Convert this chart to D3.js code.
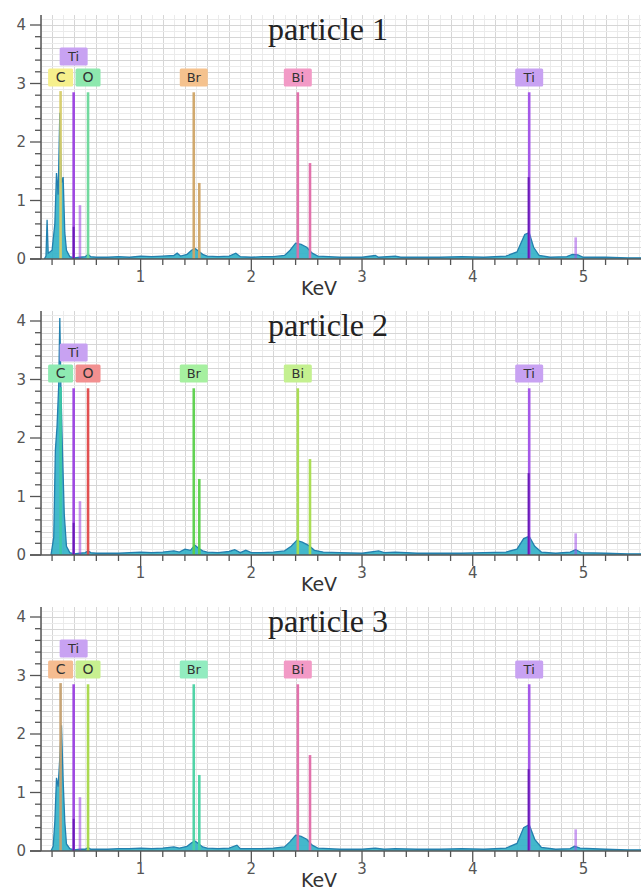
<!DOCTYPE html>
<html>
<head>
<meta charset="utf-8">
<script src="https://cdnjs.cloudflare.com/ajax/libs/d3/7.8.5/d3.min.js"></script>
<style>
  body { margin: 0; background: #fff; }
  svg { display: block; }
</style>
</head>
<body>
<svg id="chart" width="641" height="891"></svg>
<script>
// data
var panelTitles = ["particle 1", "particle 2", "particle 3"];
var yTicks = [0, 1, 2, 3, 4];
var xTicks = [1, 2, 3, 4, 5];

// element markers: label, energy (keV), row of the label box
var labelNames = ["C", "Ti", "O", "Br", "Bi", "Ti"];
var labelEnergy = [0.277, 0.395, 0.525, 1.48, 2.42, 4.51];
var labelRow = [0, 1, 0, 0, 0, 0];

// every marker line: owner label index, energy, height
var lineOwner = [0, 1, 1, 2, 3, 3, 4, 4, 5, 5];
var lineEnergy = [0.277, 0.395, 0.452, 0.525, 1.48, 1.53, 2.42, 2.53, 4.51, 4.93];
var lineHeight = [2.87, 2.85, 0.92, 2.85, 2.85, 1.30, 2.85, 1.64, 2.85, 0.37];
var lineFaint = [false, false, true, false, false, false, false, false, false, true];
// darker overlay parts on the Ti lines
var darkEnergy = [0.395, 4.505];
var darkHeight = [0.55, 1.40];

// spectra [keV, counts]
var spectrum1 = [[0.13,0],[0.145,0.05],[0.155,0.67],[0.165,0.1],[0.2,0.15],[0.225,0.6],[0.24,1.47],[0.255,1.1],[0.27,2.5],[0.285,1.3],[0.3,1.4],[0.315,0.45],[0.33,0.15],[0.36,0.04],[0.4,0.02],[0.45,0.03],[0.5,0.04],[0.525,0.08],[0.55,0.04],[0.6,0.03],[0.7,0.03],[0.8,0.04],[0.9,0.03],[1.0,0.05],[1.1,0.04],[1.2,0.05],[1.3,0.06],[1.33,0.1],[1.36,0.05],[1.42,0.08],[1.46,0.15],[1.49,0.18],[1.52,0.14],[1.56,0.08],[1.6,0.05],[1.7,0.04],[1.8,0.05],[1.86,0.1],[1.9,0.04],[2.0,0.03],[2.1,0.04],[2.2,0.04],[2.3,0.06],[2.35,0.15],[2.4,0.27],[2.45,0.25],[2.5,0.2],[2.55,0.1],[2.6,0.05],[2.7,0.04],[2.8,0.03],[3.0,0.03],[3.12,0.06],[3.15,0.03],[3.3,0.05],[3.35,0.03],[3.5,0.03],[3.7,0.03],[3.9,0.04],[4.1,0.03],[4.3,0.05],[4.4,0.12],[4.47,0.42],[4.51,0.45],[4.55,0.2],[4.6,0.06],[4.7,0.03],[4.85,0.04],[4.9,0.08],[4.95,0.07],[5.0,0.03],[5.2,0.03],[5.4,0.02],[5.6,0.02]];
var spectrum2 = [[0.19,0],[0.215,0.3],[0.23,1.8],[0.245,2.2],[0.26,2.9],[0.27,4.05],[0.28,2.85],[0.295,1.7],[0.31,0.7],[0.33,0.15],[0.36,0.04],[0.4,0.02],[0.45,0.03],[0.5,0.04],[0.525,0.07],[0.55,0.04],[0.6,0.03],[0.7,0.03],[0.8,0.03],[0.9,0.04],[1.0,0.05],[1.1,0.04],[1.2,0.05],[1.3,0.07],[1.35,0.05],[1.4,0.1],[1.45,0.08],[1.49,0.17],[1.52,0.12],[1.56,0.07],[1.6,0.05],[1.7,0.04],[1.8,0.06],[1.85,0.09],[1.9,0.04],[1.95,0.08],[2.0,0.04],[2.1,0.04],[2.2,0.05],[2.3,0.07],[2.36,0.15],[2.41,0.25],[2.46,0.22],[2.52,0.16],[2.57,0.08],[2.65,0.05],[2.8,0.04],[3.0,0.03],[3.15,0.07],[3.2,0.04],[3.3,0.05],[3.5,0.03],[3.7,0.03],[3.9,0.03],[4.1,0.04],[4.3,0.05],[4.4,0.1],[4.46,0.28],[4.51,0.32],[4.56,0.15],[4.62,0.05],[4.75,0.03],[4.88,0.05],[4.93,0.09],[4.98,0.04],[5.2,0.03],[5.4,0.02],[5.6,0.02]];
var spectrum3 = [[0.19,0],[0.21,0.08],[0.225,0.5],[0.24,1.25],[0.255,1.1],[0.27,1.6],[0.285,2.15],[0.3,1.2],[0.315,0.5],[0.33,0.12],[0.36,0.04],[0.4,0.02],[0.45,0.03],[0.5,0.03],[0.525,0.06],[0.55,0.03],[0.6,0.03],[0.7,0.03],[0.8,0.04],[0.9,0.04],[1.0,0.05],[1.1,0.04],[1.2,0.05],[1.3,0.07],[1.35,0.05],[1.42,0.08],[1.46,0.14],[1.49,0.17],[1.52,0.13],[1.56,0.07],[1.6,0.05],[1.7,0.04],[1.8,0.05],[1.87,0.1],[1.9,0.04],[2.0,0.04],[2.1,0.04],[2.2,0.05],[2.3,0.07],[2.35,0.16],[2.4,0.27],[2.45,0.25],[2.5,0.2],[2.55,0.1],[2.6,0.05],[2.7,0.04],[2.8,0.03],[3.0,0.03],[3.12,0.05],[3.2,0.03],[3.3,0.04],[3.5,0.03],[3.7,0.03],[3.9,0.04],[4.1,0.03],[4.3,0.05],[4.4,0.13],[4.46,0.4],[4.51,0.45],[4.56,0.2],[4.62,0.06],[4.75,0.03],[4.88,0.04],[4.92,0.08],[4.97,0.05],[5.2,0.03],[5.4,0.02],[5.6,0.02]];
var spectra = [spectrum1, spectrum2, spectrum3];

// colours per panel, per label index: [box fill, line colour]
var panelColours = [
  [["#f6f08c", "#d6cc6a"], ["#c8a2f2", "#9a3ee0"], ["#8ee8ae", "#6ad89a"], ["#f5c28e", "#cfa466"], ["#f29ac6", "#e06aa8"], ["#c8a2f2", "#a050e8"]],
  [["#8eeab2", "#3cc8a4"], ["#c8a2f2", "#9a3ee0"], ["#f29090", "#e04848"], ["#a6f0a0", "#5ad04a"], ["#c4f090", "#a6dc4c"], ["#c8a2f2", "#a050e8"]],
  [["#f5bc90", "#c4a070"], ["#c8a2f2", "#9a3ee0"], ["#c8f090", "#a8d848"], ["#92ecc0", "#48d2a2"], ["#f29ac6", "#e06aa8"], ["#c8a2f2", "#a050e8"]]
];

var svg = d3.select("#chart"),
  panelStep = 296;

var x = d3.scaleLinear().domain([0.1, 5.6]).range([41, 41 + 5.5 * 110.7]);
var y = d3.scaleLinear().domain([0, 4]).range([259, 25]);
var yTop = 4.17;

var area = d3.area()
  .x(d => x(d[0]))
  .y0(y(0))
  .y1(d => y(d[1]));
var line = d3.line()
  .x(d => x(d[0]))
  .y(d => y(d[1]));

svg.append("defs").append("clipPath").attr("id", "plotclip")
  .append("rect")
  .attr("x", 41).attr("y", y(yTop))
  .attr("width", 600).attr("height", y(0) - y(yTop));

panelTitles.forEach((title, p) => {
  var g = svg.append("g").attr("transform", "translate(0," + p * panelStep + ")");
  var colours = panelColours[p];

  // grid
  var grid = g.append("g");
  grid.selectAll("line.vf")
    .data(d3.range(1, 57).map(i => i / 10))
    .join("line")
    .attr("x1", d => Math.round(x(d)) + 0.5).attr("x2", d => Math.round(x(d)) + 0.5)
    .attr("y1", y(yTop)).attr("y2", y(0))
    .attr("stroke", (d, i) => (i % 2 === 1 ? "#d6d6d6" : "#ebebeb"))
    .attr("stroke-width", 1);
  grid.selectAll("line.hf")
    .data(d3.range(1, 42).map(i => i / 10))
    .join("line")
    .attr("x1", x(0.1)).attr("x2", 641)
    .attr("y1", d => Math.round(y(d)) + 0.5).attr("y2", d => Math.round(y(d)) + 0.5)
    .attr("stroke", (d, i) => (i % 2 === 1 ? "#d6d6d6" : "#ebebeb"))
    .attr("stroke-width", 1);

  var plot = g.append("g").attr("clip-path", "url(#plotclip)");

  // spectrum
  plot.append("path")
    .datum(spectra[p])
    .attr("d", area)
    .attr("fill", "#2fb0c6")
    .attr("fill-opacity", 0.9);
  plot.append("path")
    .datum(spectra[p])
    .attr("d", line)
    .attr("fill", "none")
    .attr("stroke", "#2380ae")
    .attr("stroke-width", 1.3);

  // element marker lines
  plot.selectAll("line.mk")
    .data(lineEnergy)
    .join("line")
    .attr("x1", d => x(d)).attr("x2", d => x(d))
    .attr("y1", y(0))
    .attr("y2", (d, i) => y(lineHeight[i]))
    .attr("stroke", (d, i) => colours[lineOwner[i]][1])
    .attr("stroke-opacity", (d, i) => (lineFaint[i] ? 0.55 : 0.95))
    .attr("stroke-width", 2.6);
  plot.selectAll("line.dk")
    .data(darkEnergy)
    .join("line")
    .attr("x1", d => x(d)).attr("x2", d => x(d))
    .attr("y1", y(0))
    .attr("y2", (d, i) => y(darkHeight[i]))
    .attr("stroke", "#6a1ab8")
    .attr("stroke-width", 2);

  // label boxes
  var boxes = g.selectAll("g.lbl")
    .data(labelNames)
    .join("g")
    .attr("transform", (d, i) => "translate(" + x(labelEnergy[i]) + "," + (y(2.95) - labelRow[i] * 21) + ")");
  boxes.append("rect")
    .attr("x", d => -(d.length > 1 ? 14 : 12.5))
    .attr("y", -18)
    .attr("width", d => (d.length > 1 ? 28 : 25))
    .attr("height", 18)
    .attr("rx", 1.5)
    .attr("fill", (d, i) => colours[i][0]);
  boxes.append("text")
    .attr("x", 0)
    .attr("y", -4.5)
    .attr("text-anchor", "middle")
    .style("font-family", "'DejaVu Sans', sans-serif")
    .style("font-size", d => (d.length > 1 ? "13px" : "14px"))
    .style("fill", "#333")
    .text(d => d);

  // axes
  var yAxis = g.append("g");
  yAxis.append("line")
    .attr("x1", 41).attr("x2", 41)
    .attr("y1", y(yTop)).attr("y2", y(0))
    .attr("stroke", "#555").attr("stroke-width", 1.5);
  yAxis.selectAll("line.ym")
    .data(d3.range(0, 21).map(i => i / 5))
    .join("line")
    .attr("x1", (d, i) => (i % 5 === 0 ? 30 : 35)).attr("x2", 41)
    .attr("y1", d => y(d)).attr("y2", d => y(d))
    .attr("stroke", "#555").attr("stroke-width", 1.3);
  yAxis.selectAll("text")
    .data(yTicks)
    .join("text")
    .attr("x", 26)
    .attr("y", d => y(d))
    .attr("dy", "0.36em")
    .attr("text-anchor", "end")
    .style("font-family", "'DejaVu Sans', sans-serif")
    .style("font-size", "15px")
    .style("fill", "#555")
    .text(d => d);

  var xAxis = g.append("g");
  xAxis.append("line")
    .attr("x1", 30).attr("x2", 641)
    .attr("y1", y(0)).attr("y2", y(0))
    .attr("stroke", "#555").attr("stroke-width", 1.5);
  xAxis.selectAll("line.xm")
    .data(d3.range(1, 28).map(i => i / 5))
    .join("line")
    .attr("x1", d => x(d)).attr("x2", d => x(d))
    .attr("y1", y(0))
    .attr("y2", (d, i) => y(0) + ((i + 1) % 5 === 0 ? 11 : 6))
    .attr("stroke", "#555").attr("stroke-width", 1.3);
  xAxis.selectAll("text")
    .data(xTicks)
    .join("text")
    .attr("x", d => x(d))
    .attr("y", y(0) + 23)
    .attr("text-anchor", "middle")
    .style("font-family", "'DejaVu Sans', sans-serif")
    .style("font-size", "15px")
    .style("fill", "#555")
    .text(d => d);

  g.append("text")
    .attr("x", 319)
    .attr("y", 295)
    .attr("text-anchor", "middle")
    .style("font-family", "'DejaVu Sans', sans-serif")
    .style("font-size", "19px")
    .style("fill", "#333")
    .text("KeV");

  g.append("text")
    .attr("x", 328)
    .attr("y", 40)
    .attr("text-anchor", "middle")
    .style("font-family", "'Liberation Serif', 'Times New Roman', serif")
    .style("font-size", "32px")
    .style("fill", "#222")
    .text(title);
});
</script>
</body>
</html>
